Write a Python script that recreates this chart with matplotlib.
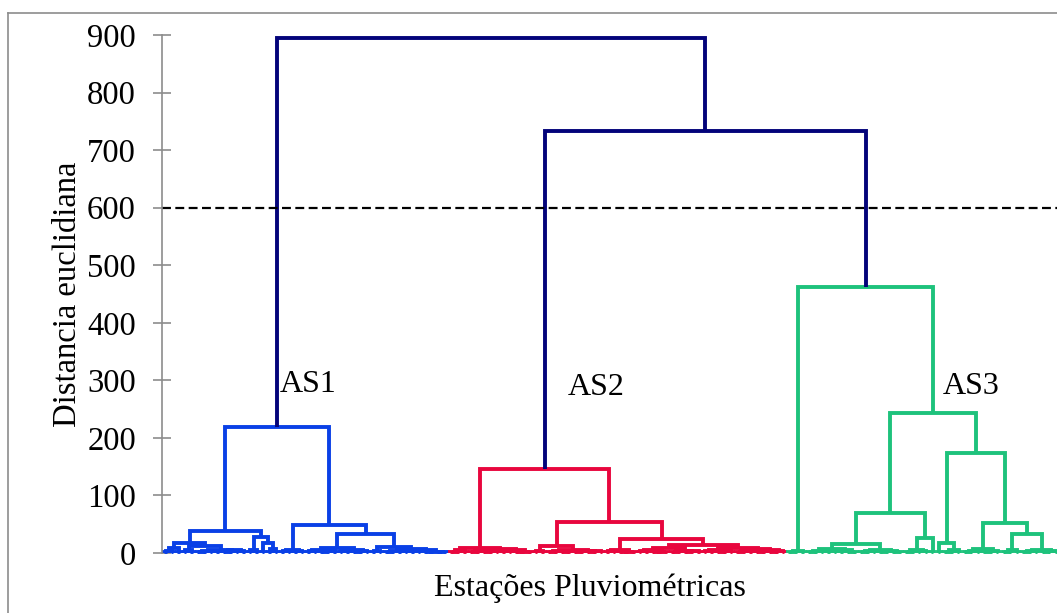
import numpy as np
import matplotlib.pyplot as plt
from matplotlib.lines import Line2D

plt.rcParams['font.family'] = ['Liberation Serif', 'DejaVu Serif']

# par de estacoes muito parecidas (folhas do dendrograma)
L = (1.5, None, None)

# arvore: (altura da fusao, esquerda, direita)
# grupo AS1 - subgrupos de base
b_x = (8, (4, L, L), L)
b_y1 = (5, L, L)
b_y2 = (6, (4, (2, L, L), (3, L, L)), (5, (2, L, L), (3, L, L)))
b_a = (6, L, L)
b_b = (18, L, (7, L, L))
b_rl = (6, (3, L, L), (4, L, L))
b_rrl = (8, (5, (3, L, L), (4, (2, L, L), L)), (6, (3, L, L), (4, (2, L, L), L)))
b_rrr1 = (4, L, L)
b_rrr2 = (7, (4, (2, L, L), (3, L, L)), (5, (3, L, L), (2, (1, L, L), (1, L, L))))
cluster_as1 = (219,
               (39, (17, b_x, (12, b_y1, b_y2)), (28, b_a, b_b)),
               (49, b_rl, (33, b_rrl, (11, b_rrr1, b_rrr2))))

# grupo AS2
r_la = (5, (2, L, L), L)
r_lb = (7, (4, (2, L, L), (3, (1, L, L), L)), (5, (3, L, L), (2, (1, L, L), L)))
r_rl1 = (4, L, L)
r_rl2 = (6, (3, (2, L, L), (1, L, L)), (4, (2, L, L), (3, (1, L, L), L)))
r_rr1 = (6, (3, L, L), (2, (1, L, L), L))
r_rr2 = (8, (5, (3, L, L), (2, (1, L, L), L)), (4, (2, L, L), (3, (1, L, L), L)))
r_rr3 = (9, (6, (3, L, L), (4, (2, L, L), L)),
         (7, (3, (1, L, L), L), (5, (2, L, L), (3, (1, L, L), L))))
cluster_as2 = (146, (9, r_la, r_lb),
               (54, (12, r_rl1, r_rl2), (24, r_rr1, (14, r_rr2, r_rr3))))

# grupo AS3
g_l = (4, (2, L, L), L)
g_a = (7, (4, (2, L, L), (3, L, L)), (5, (3, L, L), (2, L, L)))
g_b = (6, (3, (1, L, L), L), (4, (2, L, L), (1, L, L)))
g_c = (5, (2, L, L), (3, L, L))
g_f = (6, (2, L, L), L)
g_g = (7, (3, (1, L, L), L), (4, (2, L, L), L))
g_h = (5, (2, L, L), L)
g_i = (6, (3, (1, L, L), L), (4, (2, L, L), L))
cluster_as3 = (462, g_l,
               (243, (69, (16, g_a, g_b), (26, g_c, L)),
                (174, (17, L, g_f), (52, g_g, (33, g_h, g_i)))))

root = (895, cluster_as1, (733, cluster_as2, cluster_as3))

cluster_names = ['AS1', 'AS2', 'AS3']
cluster_colors = ['#0a40e6', '#e8063e', '#1ec27c']
top_color = '#03037a'
cut_height = 600

# posicao dos rotulos (indice da estacao, altura)
label_x = [35.5, 124.2, 239.5]
label_y = [292, 288, 290]

yticks = np.arange(0, 901, 100)

color_of = {id(cluster_as1): cluster_colors[0],
            id(cluster_as2): cluster_colors[1],
            id(cluster_as3): cluster_colors[2]}


def layout(node, counter, segs, color):
    h, left, right = node
    if left is None:
        # par de estacoes
        x0 = counter[0]
        counter[0] += 2
        segs.append(([x0, x0, x0 + 1, x0 + 1], [0, h, h, 0], color))
        return x0 + 0.5, h
    color = color_of.get(id(node), color)
    xl, hl = layout(left, counter, segs, color)
    xr, hr = layout(right, counter, segs, color)
    segs.append(([xl, xl, xr, xr], [hl, h, h, hr], color))
    return (xl + xr) / 2, h


segs = []
n_leaves = [0]
layout(root, n_leaves, segs, top_color)

fig = plt.figure(figsize=(10.57, 6.13), dpi=100)
ax = fig.add_axes([162 / 1057, 60 / 613, 895 / 1057, 518 / 613])

for xs, hs, c in segs:
    ax.plot(xs, hs, color=c, lw=2.8, solid_capstyle='butt',
            solid_joinstyle='miter', clip_on=False)

ax.axhline(cut_height, color='black', lw=1.6, ls=(0, (4, 2)))

for name, x, y in zip(cluster_names, label_x, label_y):
    ax.text(x, y, name, fontsize=23, ha='left', va='center')

ax.set_xlim(-0.73, 274.7)
ax.set_ylim(0, 900)
ax.set_yticks(yticks)
ax.set_xticks([])
for s in ['top', 'right', 'bottom']:
    ax.spines[s].set_visible(False)
ax.spines['left'].set_color('#8c8c8c')
ax.spines['left'].set_linewidth(1.2)
ax.tick_params(axis='y', direction='inout', length=13.5, width=1.2,
               color='#8c8c8c', labelsize=23.5, pad=12)
ax.set_ylabel('Distancia euclidiana', fontsize=23.5, labelpad=3)

fig.text(590 / 1057, 1 - 588 / 613, 'Estações Pluviométricas', fontsize=23,
         ha='center', va='center')

# moldura da figura
fig.add_artist(Line2D([8 / 1057, 1.01], [1 - 13 / 613, 1 - 13 / 613],
                      color='#8c8c8c', lw=1.2, transform=fig.transFigure))
fig.add_artist(Line2D([8 / 1057, 8 / 1057], [-0.01, 1 - 13 / 613],
                      color='#8c8c8c', lw=1.2, transform=fig.transFigure))

fig.savefig('out.png', dpi=100)
